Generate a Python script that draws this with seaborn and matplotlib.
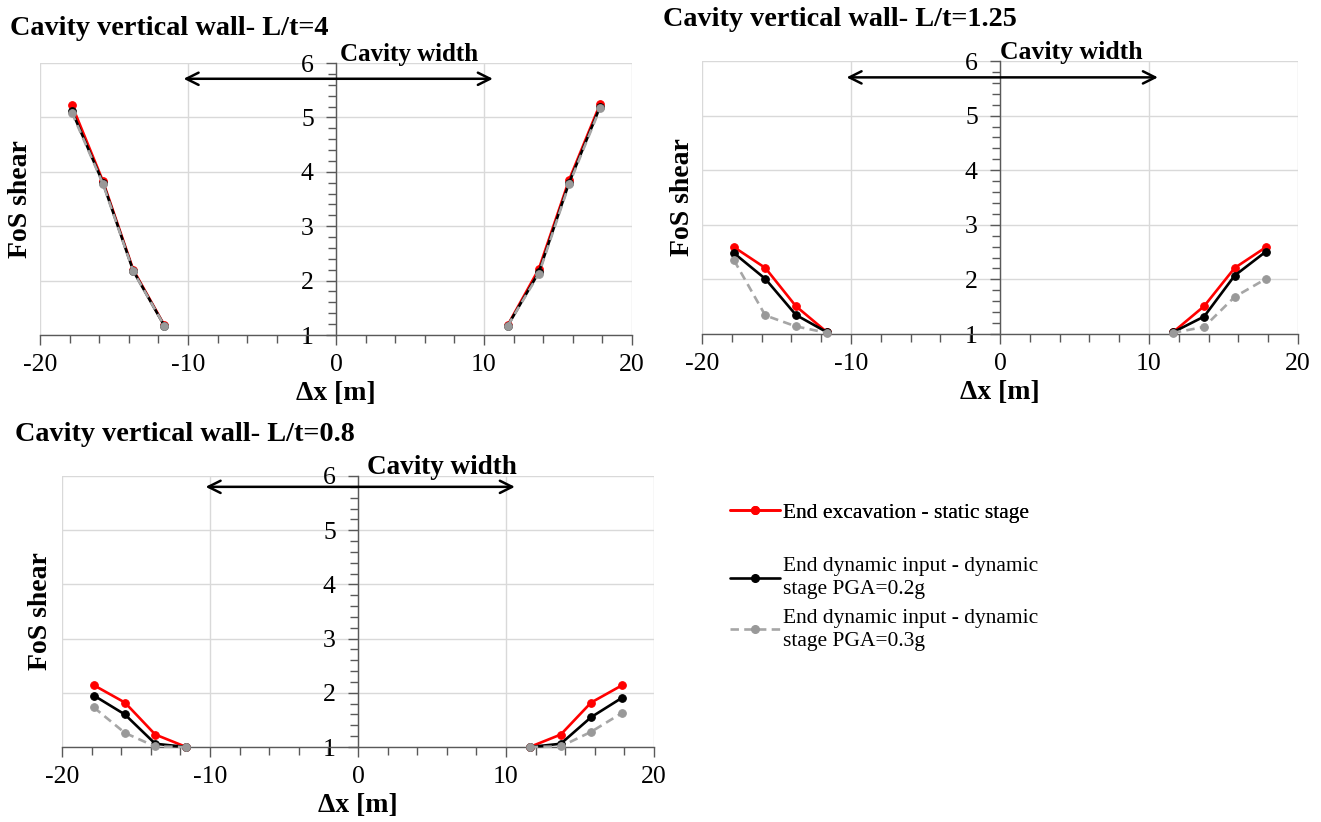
import matplotlib
matplotlib.use("Agg")
import matplotlib.pyplot as plt
from matplotlib.ticker import MultipleLocator
from matplotlib.lines import Line2D
import numpy as np
import pandas as pd
import seaborn as sns

# ---------------- data ----------------
dx = [-17.85, -15.75, -13.7, -11.6, 11.6, 13.7, 15.75, 17.85]
side = ["L", "L", "L", "L", "R", "R", "R", "R"]

titles = ["Cavity vertical wall- L/t=4",
          "Cavity vertical wall- L/t=1.25",
          "Cavity vertical wall- L/t=0.8"]

static_4 = [5.23, 3.83, 2.20, 1.18, 1.18, 2.21, 3.85, 5.25]
pga02_4 = [5.12, 3.80, 2.18, 1.17, 1.17, 2.15, 3.80, 5.20]
pga03_4 = [5.09, 3.78, 2.17, 1.17, 1.17, 2.12, 3.77, 5.17]

static_125 = [2.59, 2.21, 1.51, 1.03, 1.03, 1.51, 2.21, 2.59]
pga02_125 = [2.48, 2.01, 1.35, 1.03, 1.03, 1.32, 2.07, 2.51]
pga03_125 = [2.35, 1.34, 1.14, 1.02, 1.02, 1.13, 1.68, 2.01]

static_08 = [2.14, 1.82, 1.23, 1.00, 1.00, 1.23, 1.82, 2.14]
pga02_08 = [1.95, 1.60, 1.06, 1.00, 1.00, 1.06, 1.55, 1.91]
pga03_08 = [1.73, 1.26, 1.01, 1.00, 1.00, 1.01, 1.28, 1.63]

series_names = ["End excavation - static stage",
                "End dynamic input - dynamic\nstage PGA=0.2g",
                "End dynamic input - dynamic\nstage PGA=0.3g"]

panel_data = [(static_4, pga02_4, pga03_4),
              (static_125, pga02_125, pga03_125),
              (static_08, pga02_08, pga03_08)]

# ---------------- style ----------------
sns.set_style("white")
plt.rcParams["font.family"] = ["Liberation Serif", "DejaVu Serif"]
plt.rcParams["axes.unicode_minus"] = False
plt.rcParams["text.color"] = "black"
plt.rcParams["axes.labelcolor"] = "black"

line_col = ["#FF0000", "#000000", "#A6A6A6"]
mark_col = ["#FF0000", "#000000", "#999999"]
styles = ["-", "-", (0, (3.2, 2.0))]
spine_col = "#595959"
grid_col = "#D9D9D9"

fig = plt.figure(figsize=(13.21, 8.22), dpi=100)
W, H = 1321.0, 822.0

def rect(l, r, t, b):
    return [l / W, 1 - b / H, (r - l) / W, (b - t) / H]

rects = [rect(40, 632, 63, 335), rect(702, 1298, 61, 334), rect(62, 654, 476, 747)]
title_pos = [(10, 35), (663, 26), (15, 441)]
cw_x = [0.25, 0.0, 0.6]
cw_size = [18, 18.5, 19.5]
arrow_y = [5.71, 5.70, 5.80]
ylab_x = [-0.012, -0.012, -0.015]

for i in range(3):
    ax = fig.add_axes(rects[i])
    for k in range(3):
        df = pd.DataFrame({"dx": dx, "fos": panel_data[i][k], "side": side})
        sns.lineplot(data=df, x="dx", y="fos", units="side", estimator=None,
                     sort=False, color=line_col[k], linestyle=styles[k],
                     linewidth=1.9, marker="o", markersize=5.5,
                     markerfacecolor=mark_col[k], markeredgecolor=mark_col[k],
                     ax=ax, legend=False, clip_on=False, zorder=3 + k)
    ax.set_xlim(-20, 20)
    ax.set_ylim(1, 6)
    ax.xaxis.set_major_locator(MultipleLocator(10))
    ax.xaxis.set_minor_locator(MultipleLocator(2))
    ax.yaxis.set_major_locator(MultipleLocator(1))
    ax.yaxis.set_minor_locator(MultipleLocator(0.2))
    ax.grid(True, which="major", color=grid_col, linewidth=1.0, zorder=0)
    ax.set_axisbelow(True)
    for s in ["top", "right"]:
        ax.spines[s].set_visible(False)
    ax.spines["left"].set_position(("data", 0))
    ax.spines["left"].set_color(spine_col)
    ax.spines["bottom"].set_color(spine_col)
    ax.spines["left"].set_linewidth(1.0)
    ax.spines["bottom"].set_linewidth(1.0)
    ax.spines["left"].set_zorder(2)
    ax.tick_params(axis="both", which="both", direction="out", color=spine_col,
                   width=1.0, labelsize=18.5, labelcolor="black",
                   left=True, bottom=True, right=False, top=False)
    ax.tick_params(axis="both", which="major", length=7)
    ax.tick_params(axis="both", which="minor", length=6)
    ax.tick_params(axis="x", which="major", pad=7)
    ax.tick_params(axis="y", which="major", pad=9)
    ax.set_xlabel("Δx [m]", fontsize=20, fontweight="bold", labelpad=3)
    ax.set_ylabel("FoS shear", fontsize=20, fontweight="bold")
    ax.yaxis.set_label_coords(ylab_x[i], 0.5)
    ax.annotate("", xy=(-10.3, arrow_y[i]), xytext=(10.6, arrow_y[i]),
                arrowprops=dict(arrowstyle="<->", lw=1.8, color="black",
                                mutation_scale=22, shrinkA=0, shrinkB=0))
    ax.text(cw_x[i], 6.03, "Cavity width", fontsize=cw_size[i], fontweight="bold",
            ha="left", va="baseline")
    fig.text(title_pos[i][0] / W, 1 - title_pos[i][1] / H, titles[i],
             fontsize=20.3, fontweight="bold", ha="left", va="baseline")

handles = [Line2D([], [], color=line_col[k], linestyle=styles[k], linewidth=1.9,
                  marker="o", markersize=5.5, markerfacecolor=mark_col[k],
                  markeredgecolor=mark_col[k]) for k in range(3)]

legA = fig.legend(handles[:1], series_names[:1], loc="center left",
                  bbox_to_anchor=(730 / W, 1 - 513 / H), frameon=False,
                  fontsize=15.5, handlelength=2.3, handletextpad=0.15,
                  borderpad=0, borderaxespad=0)
fig.add_artist(legA)
legB = fig.legend(handles[1:], series_names[1:], loc="upper left",
                  bbox_to_anchor=(730 / W, 1 - 557 / H), frameon=False,
                  fontsize=15.5, handlelength=2.3, handletextpad=0.15,
                  borderpad=0, borderaxespad=0, labelspacing=0.45)
for leg in (legA, legB):
    for t in leg.get_texts():
        t.set_linespacing(1.3)
        t.set_color("black")

fig.savefig("out.png", dpi=100)
